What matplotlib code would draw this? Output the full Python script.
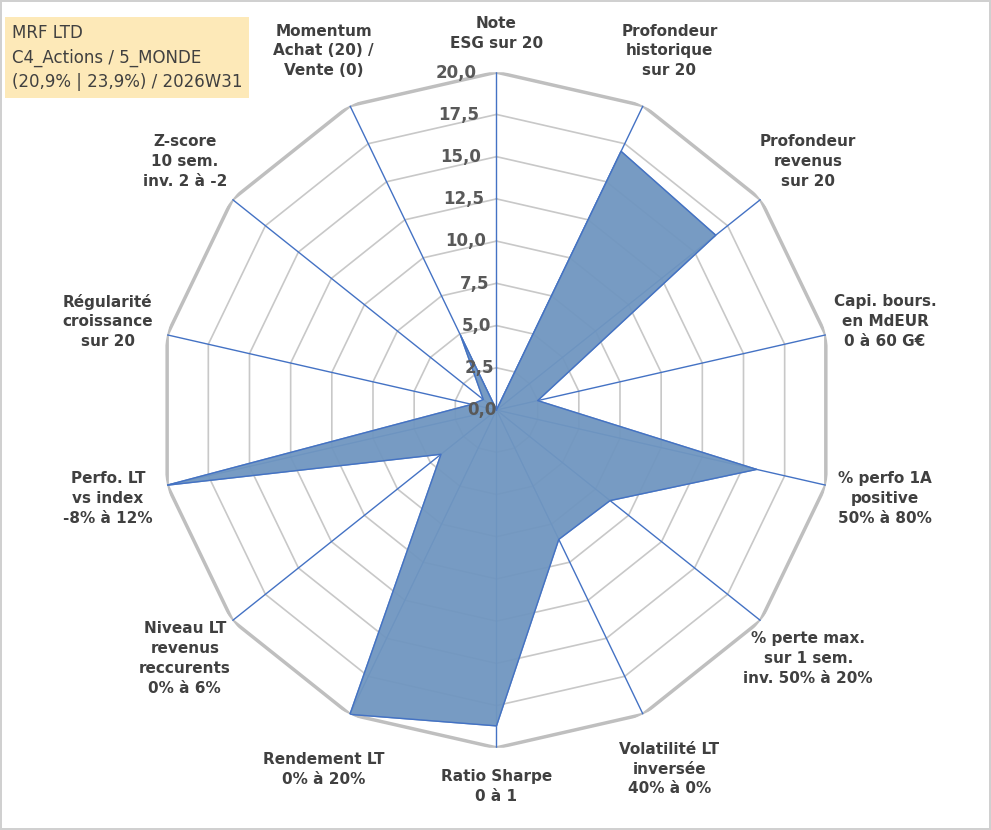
import numpy as np
import matplotlib.pyplot as plt

labels = ["Note\nESG sur 20", "Profondeur\nhistorique\nsur 20", "Profondeur\nrevenus\nsur 20",
          "Capi. bours.\nen MdEUR\n0 à 60 G€", "% perfo 1A\npositive\n50% à 80%",
          "% perte max.\nsur 1 sem.\ninv. 50% à 20%", "Volatilité LT\ninversée\n40% à 0%",
          "Ratio Sharpe\n0 à 1", "Rendement LT\n0% à 20%", "Niveau LT\nrevenus\nreccurents\n0% à 6%",
          "Perfo. LT\nvs index\n-8% à 12%", "Régularité\ncroissance\nsur 20",
          "Z-score\n10 sem.\ninv. 2 à -2", "Momentum\nAchat (20) /\nVente (0)"]
values = [0, 17.0, 16.6, 2.5, 15.8, 8.6, 8.5, 18.7, 20.0, 4.2, 20.0, 1.5, 1.0, 4.9]
ticks = [0, 2.5, 5, 7.5, 10, 12.5, 15, 17.5, 20]

n = len(labels)
ang = np.linspace(0, 2 * np.pi, n, endpoint=False)
angc = np.append(ang, ang[0])

fig = plt.figure(figsize=(9.91, 8.3), dpi=100)
fig.patch.set_edgecolor("#d0d0d0")
fig.patch.set_linewidth(1.5)
ax = fig.add_axes([0.160, 0.099, 0.682, 0.814], projection="polar")
ax.set_theta_zero_location("N")
ax.set_theta_direction(-1)
ax.set_ylim(0, 20)
ax.grid(False)
ax.spines["polar"].set_visible(False)
ax.set_xticks([])
ax.set_yticks([])

for t in ticks[1:]:
    ax.plot(angc, [t] * (n + 1), color="#c8c8c8" if t < 20 else "#bfbfbf",
            lw=2.5 if t == 20 else 1.2, zorder=1)
for a in ang:
    ax.plot([a, a], [0, 20], color="#4472c4", lw=1, zorder=2)

v = values + values[:1]
ax.fill(angc, v, color="#7096c0", alpha=0.95, zorder=3)
ax.plot(angc, v, color="#4472c4", lw=1, zorder=4)

for t in ticks:
    ax.text(-0.06, t, f"{t:.1f}".replace(".", ","), ha="right", va="center",
            fontsize=12, color="#595959", fontweight="bold", zorder=5)

for a, lab in zip(ang, labels):
    s = np.sin(a)
    r = 22.3 if abs(s) < 0.3 else 23.6
    ax.text(a, r, lab, ha="center", va="center", fontsize=11, fontweight="bold",
            color="#404040", linespacing=1.4)

fig.text(0.012, 0.89, "MRF LTD\nC4_Actions / 5_MONDE\n(20,9% | 23,9%) / 2026W31",
         fontsize=12, color="#404040", va="bottom", linespacing=1.45,
         bbox=dict(facecolor="#fde9b8", edgecolor="none", pad=5))

fig.savefig("out.png", dpi=100, edgecolor=fig.get_edgecolor())
